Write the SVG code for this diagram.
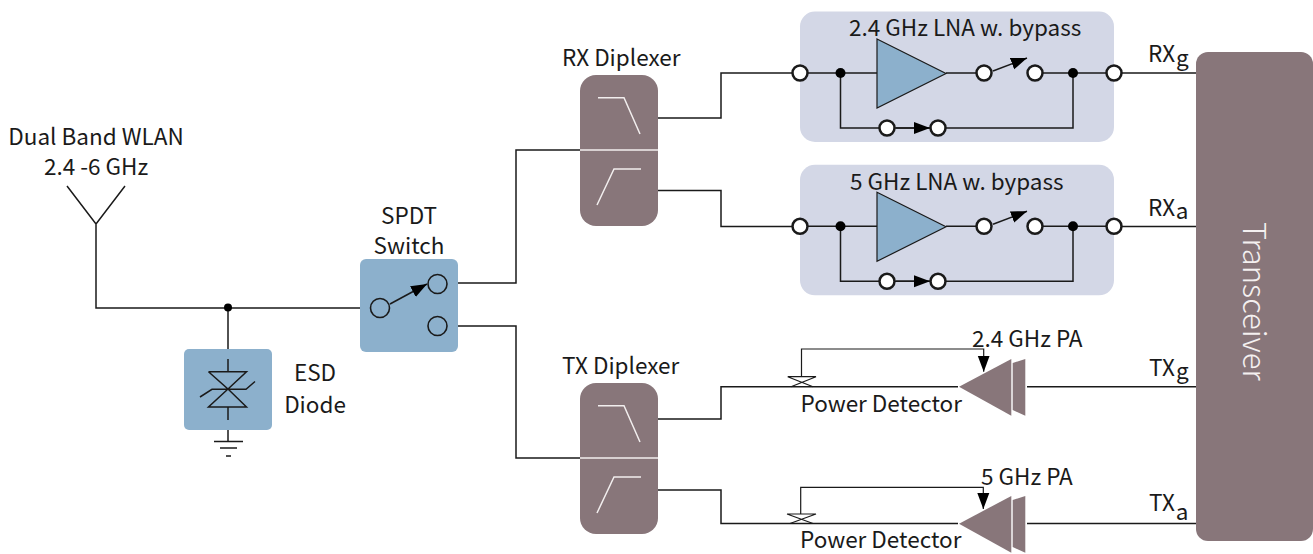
<svg xmlns="http://www.w3.org/2000/svg" width="1313" height="554" viewBox="0 0 1313 554">
<style>
text{font-family:"Noto Sans CJK SC","Noto Sans",sans-serif;font-size:22.5px;fill:#1a1a1a}
.m{text-anchor:middle}
.w{fill:none;stroke:#1a1a1a;stroke-width:1.5}
.t{fill:none;stroke:#1a1a1a;stroke-width:1.2}
.f{fill:none;stroke:#f2eeee;stroke-width:1.5}
.blue{fill:#8cb0cc}
.br{fill:#88767a}
.bg{fill:#d3d7e6}
.c{fill:#fff;stroke:#1a1a1a;stroke-width:2.5}
.s{fill:#8cb0cc;stroke:#1a1a1a;stroke-width:1.6}
.d{fill:#000}
.amp{fill:#8cb0cc;stroke:#1a1a1a;stroke-width:1.2}
</style>
<defs>
<marker id="ah" markerUnits="userSpaceOnUse" markerWidth="18" markerHeight="14" refX="16" refY="7" orient="auto"><path d="M0 1L16 7L0 13Z" fill="#000"/></marker>
<g id="dip">
<rect x="580" y="75" width="78" height="151" rx="16" class="br"/>
<path class="f" d="M580 150H658M598 97.7H624L640 134M597 205L614 169H641"/>
</g>
<g id="lna">
<rect x="800" y="11.5" width="314" height="130.5" rx="15" class="bg"/>
<path class="w" d="M800 73H877M946 73H984M1035 73H1114M840.5 73V128H1073V73"/>
<path class="amp" d="M877 39L946 73.5L877 108Z"/>
<path class="w" d="M993 71L1027 58" marker-end="url(#ah)"/>
<path class="w" d="M896 128H930" marker-end="url(#ah)"/>
<circle class="d" cx="840.5" cy="73" r="5"/><circle class="d" cx="1073" cy="73" r="5"/>
<circle class="c" cx="800" cy="73" r="7.5"/><circle class="c" cx="984" cy="73" r="7.5"/><circle class="c" cx="1035" cy="73" r="7.5"/><circle class="c" cx="1114" cy="73" r="7.5"/><circle class="c" cx="887" cy="128" r="7.5"/><circle class="c" cx="938" cy="128" r="7.5"/>
</g>
<g id="pa">
<path class="br" d="M959 386.7L1011.3 359V415.7Z"/>
<path class="br" d="M1012.7 363L1025.3 359V415.7L1012.7 410Z"/>
</g>
</defs>
<g id="connectors">
<path class="w" d="M67 186L96 224L125 186M96 224V308H370M228 308V349M447 283H516V150H580M447 326H516V458H580"/>
<path class="w" d="M658 118H721V73H800M658 190.5H721V226.5H800M658 419H721V386.7H958M658 490H721V523.5H958"/>
<path class="w" d="M1114 73H1196M1114 226.5H1196M1027 386.7H1196M1027 523.5H1196"/>
<path class="t" d="M801.5 376.7V349H983.7V371.7" marker-end="url(#ah)"/>
<path class="t" d="M800.7 514V487.3H983.3V509" marker-end="url(#ah)"/>
<path class="t" d="M787.7 376.7H816L791 386.7M787.7 376.7L813 386.7M787 514H816L790 523.5M787 514L813 523.5"/>
<circle class="d" cx="228" cy="307.5" r="4"/>
</g>
<g id="antenna"><text class="m" x="96" y="144.5">Dual Band WLAN</text><text class="m" x="96" y="174.5">2.4 -6 GHz</text></g>
<g id="esd">
<rect x="184" y="349" width="88" height="81" rx="5" class="blue"/>
<path class="w" d="M228 359V371.7M208.5 371.7H246.5L228 389L208.5 371.7M228 389L208.5 407H246.5L228 389M228 407V420M200 397L212 389.3H246L255 381.5"/>
<path class="w" d="M228 430V441.5M214 441.5H243M220 448H237M226 456H231"/>
<text class="m" x="315" y="380.5">ESD</text><text class="m" x="315" y="412.5">Diode</text>
</g>
<g id="spdt">
<rect x="360" y="259" width="98" height="93" rx="6" class="blue"/>
<path class="w" d="M390 304L427 284" marker-end="url(#ah)"/>
<circle class="s" cx="380" cy="308" r="9.5"/><circle class="s" cx="437.5" cy="284" r="9.5"/><circle class="s" cx="437.5" cy="326" r="9.5"/>
<text class="m" x="409" y="223.5">SPDT</text><text class="m" x="409" y="253.5">Switch</text>
</g>
<g id="rx-diplexer"><use href="#dip"/><text x="562" y="65.5">RX Diplexer</text></g>
<g id="tx-diplexer"><use href="#dip" y="308"/><text x="562" y="373.5">TX Diplexer</text></g>
<g id="lna-24"><use href="#lna"/><text x="849" y="36">2.4 GHz LNA w. bypass</text></g>
<g id="lna-5"><use href="#lna" y="153.3"/><text x="850" y="190">5 GHz LNA w. bypass</text></g>
<g id="pa-24"><use href="#pa"/><text x="972" y="346.7">2.4 GHz PA</text><text x="800.5" y="412">Power Detector</text></g>
<g id="pa-5"><use href="#pa" y="137"/><text x="981" y="485">5 GHz PA</text><text x="800" y="548">Power Detector</text></g>
<g id="transceiver">
<rect x="1196" y="52" width="117" height="489" rx="12" class="br"/>
<text transform="translate(1243 222) rotate(90)" style="font-size:31px;font-weight:300;fill:#f4f0f0">Transceiver</text>
</g>
<g id="port-labels">
<text x="1148" y="62">RX<tspan dy="4" dx="1">g</tspan></text>
<text x="1148" y="216">RX<tspan dy="3" dx="1">a</tspan></text>
<text x="1149" y="376">TX<tspan dy="3" dx="1">g</tspan></text>
<text x="1149" y="511">TX<tspan dy="9" dx="1">a</tspan></text>
</g>
</svg>
